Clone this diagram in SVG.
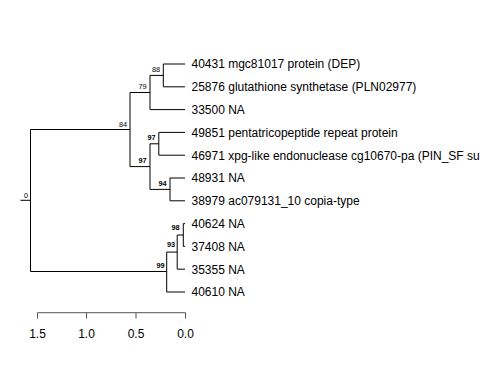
<svg xmlns="http://www.w3.org/2000/svg" width="480" height="384" viewBox="0 0 480 384">
<style>
.e{stroke:#000;stroke-width:1;fill:none}
.t{font-family:"Liberation Sans",Arial,sans-serif;font-size:12px;fill:#000}
.b{font-family:"Liberation Sans",Arial,sans-serif;font-size:7.3px;fill:#000;text-anchor:end}
.bb{font-weight:bold}
.ax{stroke:#555;stroke-width:1;fill:none}
</style>
<rect width="480" height="384" fill="#fff"/>
<g id="connectors">
<path class="e" d="M20.5,200.3H30.5M30.5,129.5V271.5M30.5,129.5H130M30.5,271.5H166.7"/>
<path class="e" d="M130,92.5V166.6M130,92.5H150M130,166.6H150"/>
<path class="e" d="M150,75.4V109.6M150,75.4H163.3M150,109.6H185"/>
<path class="e" d="M163.3,64V86.8M163.3,64H185M163.3,86.8H185"/>
<path class="e" d="M150,143.8V189.4M150,143.8H158.8M150,189.4H170"/>
<path class="e" d="M158.8,132.4V155.2M158.8,132.4H185M158.8,155.2H185"/>
<path class="e" d="M170,178V200.8M170,178H185M170,200.8H185"/>
<path class="e" d="M166.7,252.1V292M166.7,252.1H177.2M166.7,292H185"/>
<path class="e" d="M177.2,235V269.2M177.2,235H183.3M177.2,269.2H185"/>
<path class="e" d="M183.3,223.6V246.4M183.3,223.6H185M183.3,246.4H185"/>
</g>
<g id="root"><text class="b" x="28" y="198">0</text></g>
<g id="n84"><text class="b" x="127" y="126.5">84</text></g>
<g id="n79"><text class="b" x="146.7" y="89.3">79</text></g>
<g id="n88"><text class="b" x="160" y="72.3">88</text></g>
<g id="n97a"><text class="b bb" x="146.7" y="163">97</text></g>
<g id="n97b"><text class="b bb" x="155.5" y="140">97</text></g>
<g id="n94"><text class="b bb" x="166.7" y="186">94</text></g>
<g id="n99"><text class="b bb" x="164.5" y="267.7">99</text></g>
<g id="n93"><text class="b bb" x="175" y="247.3">93</text></g>
<g id="n98"><text class="b bb" x="179.5" y="230">98</text></g>
<g id="tip1"><text class="t" x="191.5" y="68.3">40431 mgc81017 protein (DEP)</text></g>
<g id="tip2"><text class="t" x="191.5" y="91.1">25876 glutathione synthetase (PLN02977)</text></g>
<g id="tip3"><text class="t" x="191.5" y="113.9">33500 NA</text></g>
<g id="tip4"><text class="t" x="191.5" y="136.7">49851 pentatricopeptide repeat protein</text></g>
<g id="tip5"><text class="t" x="191.5" y="159.5">46971 xpg-like endonuclease cg10670-pa (PIN_SF su</text></g>
<g id="tip6"><text class="t" x="191.5" y="182.3">48931 NA</text></g>
<g id="tip7"><text class="t" x="191.5" y="205.1">38979 ac079131_10 copia-type</text></g>
<g id="tip8"><text class="t" x="191.5" y="227.9">40624 NA</text></g>
<g id="tip9"><text class="t" x="191.5" y="250.7">37408 NA</text></g>
<g id="tip10"><text class="t" x="191.5" y="273.5">35355 NA</text></g>
<g id="tip11"><text class="t" x="191.5" y="296.3">40610 NA</text></g>
<g id="axis">
<path class="ax" d="M37.5,312.7H185.5M37.5,312.7V318.5M86.5,312.7V318.5M136,312.7V318.5M185.5,312.7V318.5"/>
<text class="t" x="37.5" y="337.5" text-anchor="middle">1.5</text>
<text class="t" x="86.5" y="337.5" text-anchor="middle">1.0</text>
<text class="t" x="136" y="337.5" text-anchor="middle">0.5</text>
<text class="t" x="185.5" y="337.5" text-anchor="middle">0.0</text>
</g>
</svg>
